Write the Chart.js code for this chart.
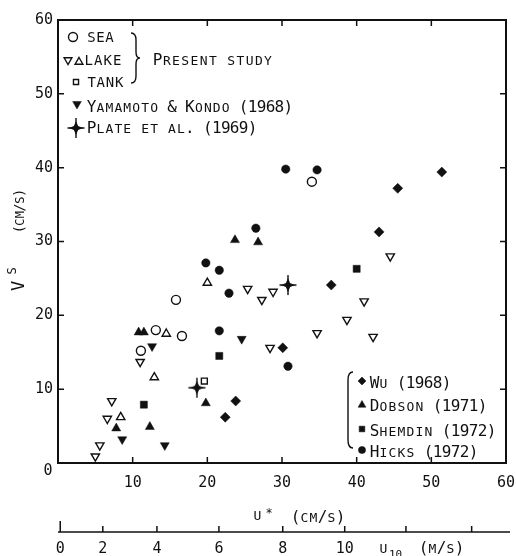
<!DOCTYPE html>
<html>
<head>
<meta charset="utf-8">
<script src="https://cdn.jsdelivr.net/npm/chart.js@4.4.0/dist/chart.umd.min.js"></script>
<style>
	html, body { margin: 0; padding: 0; background: #fff; }
	#wrap { width: 516px; height: 556px; position: relative; }
</style>
</head>
<body>
<div id="wrap"><canvas id="chart"></canvas></div>
<script>
// friction velocity u* (cm/s) against surface drift Vs (cm/s)
var seaU = [15.8, 13.1, 16.6, 11.1, 34.0];
var seaV = [22.1, 18.0, 17.2, 15.2, 38.1];

var lakeDownU = [25.4, 11.0, 7.2, 6.6, 5.6, 5.0, 27.3, 28.8, 41.0, 38.7, 34.7, 42.2, 28.4, 44.5];
var lakeDownV = [23.6, 13.7, 8.4, 6.0, 2.4, 0.9, 22.1, 23.2, 21.9, 19.4, 17.6, 17.1, 15.6, 28.0];

var lakeUpU = [20.0, 14.5, 12.9, 8.4];
var lakeUpV = [24.4, 17.5, 11.6, 6.2];

var tankU = [19.6];
var tankV = [11.1];

var yamamotoU = [12.6, 24.6, 8.6, 14.3];
var yamamotoV = [15.8, 16.8, 3.2, 2.4];

var plateU = [18.6, 30.8];
var plateV = [10.2, 24.1];

var wuU = [51.4, 45.5, 43.0, 36.6, 30.1, 23.8, 22.4];
var wuV = [39.4, 37.2, 31.3, 24.1, 15.6, 8.4, 6.2];

var dobsonU = [10.8, 11.5, 23.7, 26.8, 19.8, 7.8, 12.3];
var dobsonV = [17.7, 17.7, 30.2, 29.9, 8.1, 4.7, 4.9];

var shemdinU = [21.6, 11.5, 40.0];
var shemdinV = [14.5, 7.9, 26.3];

var hicksU = [19.8, 21.6, 22.9, 21.6, 26.5, 30.5, 34.7, 30.8];
var hicksV = [27.1, 26.1, 23.0, 17.9, 31.8, 39.8, 39.7, 13.1];

// second scale: U10 (m/s) ticks placed at their u* equivalents
var u10Labels = ['0', '2', '4', '6', '8', '10', '', ''];
var u10AtUstar = [0.3, 6.0, 13.25, 21.55, 30.1, 38.4, 46.6, 55.4];

var INK = '#111';
var MONO = "'DejaVu Sans Mono', monospace";
Chart.defaults.font.family = MONO;
Chart.defaults.color = INK;

function pts(us, vs) {
	return us.map(function (u, i) { return { x: u, y: vs[i] }; });
}

function makePlateMark() {
	var c = document.createElement('canvas');
	c.width = 22; c.height = 22;
	var g = c.getContext('2d');
	g.translate(11, 11);
	g.fillStyle = INK;
	g.beginPath();
	for (var k = 0; k < 8; k++) {
		var a = k * Math.PI / 4 - Math.PI / 2;
		var r = (k % 2 === 0) ? 7 : 3;
		g.lineTo(r * Math.cos(a), r * Math.sin(a));
	}
	g.closePath();
	g.fill();
	g.strokeStyle = INK;
	g.lineWidth = 1.4;
	g.beginPath();
	g.moveTo(-8.5, 0); g.lineTo(8.5, 0);
	g.moveTo(0, -10); g.lineTo(0, 10);
	g.stroke();
	return c;
}
var plateMark = makePlateMark();

function series(label, us, vs, style, radius, filled, rotation) {
	return {
		label: label,
		data: pts(us, vs),
		pointStyle: style,
		pointRadius: radius,
		pointRotation: rotation || 0,
		backgroundColor: filled ? INK : '#fff',
		borderColor: INK,
		borderWidth: filled ? 0.5 : 1.4,
		showLine: false
	};
}

// small caps: lowercase letters are drawn as smaller capitals on a fixed pitch
function drawCaps(ctx, str, x, y, big, small, adv) {
	ctx.textAlign = 'center';
	ctx.textBaseline = 'alphabetic';
	for (var i = 0; i < str.length; i++) {
		var ch = str[i];
		var low = (ch !== ch.toUpperCase());
		ctx.font = (low ? small : big) + 'px ' + MONO;
		ctx.fillText(ch.toUpperCase(), x + adv * i + adv / 2, y);
	}
}

function mark(ctx, style, x, y, r, filled, rot) {
	ctx.save();
	ctx.fillStyle = filled ? INK : '#fff';
	ctx.strokeStyle = INK;
	ctx.lineWidth = filled ? 0.5 : 1.4;
	Chart.helpers.drawPoint(ctx, { pointStyle: style, radius: r, rotation: rot || 0, borderWidth: ctx.lineWidth }, x, y);
	ctx.restore();
}

// keep the horizontal scales from pushing the plot edges inwards
function noSidePadding(s) {
	s.paddingLeft = 0;
	s.paddingRight = 0;
}

var framePlugin = {
	id: 'frame',
	afterDraw: function (chart) {
		var ctx = chart.ctx, a = chart.chartArea;
		var sx = chart.scales.x, sy = chart.scales.y, s2 = chart.scales.x2;
		ctx.save();
		ctx.strokeStyle = INK;
		ctx.fillStyle = INK;

		// box round the plot with inward ticks
		ctx.lineWidth = 2;
		ctx.strokeRect(a.left, a.top, a.right - a.left, a.bottom - a.top);
		ctx.lineWidth = 1.5;
		ctx.beginPath();
		[10, 20, 30, 40, 50].forEach(function (v) {
			var px = sx.getPixelForValue(v), py = sy.getPixelForValue(v);
			ctx.moveTo(px, a.bottom); ctx.lineTo(px, a.bottom - 6);
			ctx.moveTo(px, a.top); ctx.lineTo(px, a.top + 6);
			ctx.moveTo(a.left, py); ctx.lineTo(a.left + 6, py);
			ctx.moveTo(a.right, py); ctx.lineTo(a.right - 6, py);
		});
		ctx.stroke();

		// shared origin label sits just below the corner
		ctx.font = '15px ' + MONO;
		ctx.textAlign = 'center';
		ctx.textBaseline = 'middle';
		ctx.fillText('0', a.left - 10, sy.getPixelForValue(0) + 8);

		// U10 scale line with upward ticks
		var base = s2.top;
		ctx.beginPath();
		ctx.moveTo(a.left, base); ctx.lineTo(a.right + 4, base);
		u10AtUstar.forEach(function (v, i) {
			var px = s2.getPixelForValue(v);
			ctx.moveTo(px, base); ctx.lineTo(px, base - (i === 0 ? 11 : 6));
		});
		ctx.stroke();

		// axis titles
		drawCaps(ctx, 'u', 253, 520, 16, 13, 9);
		ctx.font = '12px ' + MONO;
		ctx.fillText('*', 269, 517);
		drawCaps(ctx, '(cm/s)', 291, 522, 16, 13, 9);

		drawCaps(ctx, 'u', 379, 553, 16, 13, 9);
		ctx.font = '11px ' + MONO;
		ctx.textAlign = 'left';
		ctx.fillText('10', 389, 558);
		drawCaps(ctx, '(m/s)', 419, 553, 16, 13, 9);

		ctx.save();
		ctx.translate(24, 211);
		ctx.rotate(-Math.PI / 2);
		drawCaps(ctx, '(cm/s)', -22, 0, 14, 12, 7.3);
		ctx.restore();
		ctx.save();
		ctx.translate(24, 286);
		ctx.rotate(-Math.PI / 2);
		ctx.font = '17px ' + MONO;
		ctx.textAlign = 'center';
		ctx.fillText('V', 0, 0);
		ctx.font = '12px ' + MONO;
		ctx.fillText('S', 15, -8);
		ctx.restore();

		// key, upper left
		mark(ctx, 'circle', 73, 37, 4.5, false);
		drawCaps(ctx, 'sea', 87, 42, 16, 14, 9);
		mark(ctx, 'triangle', 68, 60, 4.5, false, 180);
		mark(ctx, 'triangle', 79, 62, 4.5, false);
		drawCaps(ctx, 'lake', 84, 65, 16, 14, 9.5);
		mark(ctx, 'rect', 76, 82, 3.6, false);
		drawCaps(ctx, 'tank', 87, 87, 16, 14, 9.2);
		mark(ctx, 'triangle', 77, 104, 5, true, 180);
		drawCaps(ctx, 'Yamamoto & Kondo (1968)', 87, 112, 16, 13, 8.95);
		ctx.drawImage(plateMark, 76 - 11, 128 - 11);
		drawCaps(ctx, 'Plate et al. (1969)', 87, 133, 16, 13, 8.95);

		// brace for the present study
		ctx.lineWidth = 1.4;
		ctx.beginPath();
		ctx.moveTo(131, 33);
		ctx.quadraticCurveTo(136, 33, 136, 40);
		ctx.lineTo(136, 52);
		ctx.quadraticCurveTo(136, 58, 140, 58);
		ctx.quadraticCurveTo(136, 58, 136, 64);
		ctx.lineTo(136, 76);
		ctx.quadraticCurveTo(136, 83, 131, 83);
		ctx.stroke();
		drawCaps(ctx, 'Present study', 153, 65, 16, 13, 9.2);

		// key, lower right
		ctx.beginPath();
		ctx.moveTo(353, 372);
		ctx.quadraticCurveTo(348, 372, 348, 380);
		ctx.lineTo(348, 440);
		ctx.quadraticCurveTo(348, 448, 353, 448);
		ctx.stroke();
		mark(ctx, 'rectRot', 362, 381, 4, true);
		drawCaps(ctx, 'Wu (1968)', 370, 388, 16, 13, 9);
		mark(ctx, 'triangle', 362, 405, 4.5, true);
		drawCaps(ctx, 'Dobson (1971)', 370, 411, 16, 13, 9);
		mark(ctx, 'rect', 362, 429, 4, true);
		drawCaps(ctx, 'Shemdin (1972)', 370, 436, 16, 13, 9);
		mark(ctx, 'circle', 362, 450, 3.6, true);
		drawCaps(ctx, 'Hicks (1972)', 370, 457, 16, 13, 9);

		ctx.restore();
	}
};

new Chart(document.getElementById('chart'), {
	type: 'scatter',
	data: {
		datasets: [
			series('Sea', seaU, seaV, 'circle', 4.5, false),
			series('Lake', lakeDownU, lakeDownV, 'triangle', 4.8, false, 180),
			series('Lake', lakeUpU, lakeUpV, 'triangle', 4.8, false),
			series('Tank', tankU, tankV, 'rect', 4.2, false),
			series('Yamamoto & Kondo (1968)', yamamotoU, yamamotoV, 'triangle', 5.2, true, 180),
			series('Plate et al. (1969)', plateU, plateV, plateMark, 8, true),
			series('Wu (1968)', wuU, wuV, 'rectRot', 5, true),
			series('Dobson (1971)', dobsonU, dobsonV, 'triangle', 5.2, true),
			series('Shemdin (1972)', shemdinU, shemdinV, 'rect', 5, true),
			series('Hicks (1972)', hicksU, hicksV, 'circle', 4.2, true)
		]
	},
	options: {
		animation: false,
		responsive: true,
		maintainAspectRatio: false,
		layout: { padding: { top: 20, right: 10, bottom: 0, left: 0 } },
		plugins: { legend: { display: false }, tooltip: { enabled: false } },
		scales: {
			x: {
				type: 'linear', position: 'bottom', min: 0, max: 60, weight: 0,
				grid: { display: false, drawTicks: false }, border: { display: false },
				ticks: {
					stepSize: 10, padding: 11, maxRotation: 0, font: { size: 15 },
					callback: function (v) { return v === 0 ? '' : v; }
				},
				afterFit: function (s) { s.height = 69; noSidePadding(s); }
			},
			x2: {
				type: 'linear', position: 'bottom', min: 0, max: 60, weight: 1,
				grid: { display: false, drawTicks: false }, border: { display: false },
				afterBuildTicks: function (s) {
					s.ticks = u10AtUstar.map(function (v) { return { value: v }; });
				},
				ticks: {
					autoSkip: false, padding: 8, maxRotation: 0, font: { size: 15 },
					callback: function (v, i) { return u10Labels[i]; }
				},
				afterFit: function (s) { s.height = 24; noSidePadding(s); }
			},
			y: {
				type: 'linear', min: 0, max: 60,
				grid: { display: false, drawTicks: false }, border: { display: false },
				ticks: {
					stepSize: 10, padding: 5, font: { size: 15 },
					callback: function (v) { return v === 0 ? '' : v; }
				},
				afterFit: function (s) { s.width = 58; }
			}
		}
	},
	plugins: [framePlugin]
});
</script>
</body>
</html>
